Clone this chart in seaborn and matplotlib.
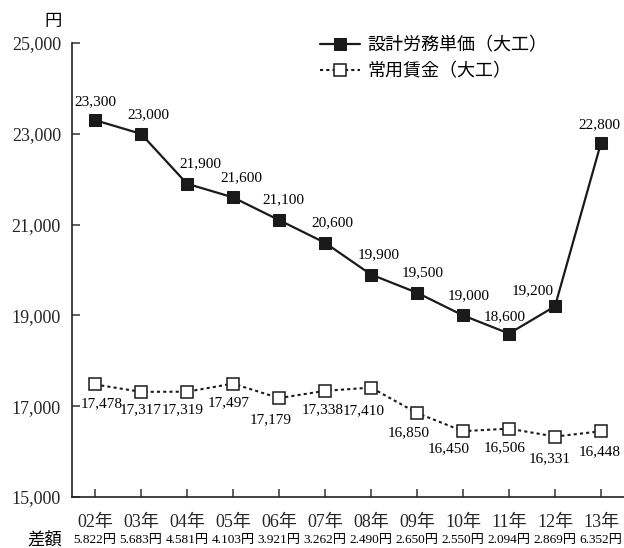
import numpy as np
import pandas as pd
import matplotlib
matplotlib.use("Agg")
import matplotlib.pyplot as plt
import matplotlib.transforms as mtransforms
import seaborn as sns

# --- data -------------------------------------------------------------
years = ["02年", "03年", "04年", "05年", "06年", "07年",
         "08年", "09年", "10年", "11年", "12年", "13年"]
design_labor = [23300, 23000, 21900, 21600, 21100, 20600,
                19900, 19500, 19000, 18600, 19200, 22800]
regular_wage = [17478, 17317, 17319, 17497, 17179, 17338,
                17410, 16850, 16450, 16506, 16331, 16448]
series_names = ["設計労務単価（大工）", "常用賃金（大工）"]
y_ticks = [15000, 17000, 19000, 21000, 23000, 25000]

# --- label nudges (pixels) --------------------------------------------
design_offsets = [(0, 18), (7, 19), (13, 20), (8, 20), (4, 20), (7, 20),
                  (8, 20), (6, 20), (6, 20), (-4, 17), (-22, 16), (-2, 18)]
wage_offsets = [(7, -19), (0, -18), (-4, -18), (-4, -19), (-8, -22), (-2, -19),
                (-7, -23), (-8, -20), (-14, -18), (-4, -19), (-5, -22), (-1, -20)]

sns.set_style("ticks")
FONT = ["Liberation Serif", "Noto Sans CJK JP"]
plt.rcParams["font.family"] = FONT
plt.rcParams["text.color"] = "black"

df = pd.DataFrame({
    "idx": np.arange(len(years)),
    "design": design_labor,
    "wage": regular_wage,
})

fig = plt.figure(figsize=(6.24, 5.48), dpi=100)
ax = fig.add_axes([72 / 624, 1 - 497 / 548, (624 - 72) / 624, (497 - 43) / 548])

sns.lineplot(data=df, x="idx", y="design", ax=ax, color="#1a1a1a", lw=1.6,
             marker="s", markersize=8, markerfacecolor="#1a1a1a",
             markeredgecolor="#1a1a1a", label=series_names[0])
sns.lineplot(data=df, x="idx", y="wage", ax=ax, color="#1a1a1a", lw=1.5,
             linestyle=(0, (1.5, 1.5)), marker="s", markersize=8,
             markerfacecolor="white", markeredgecolor="#1a1a1a",
             markeredgewidth=1.1, label=series_names[1])

ax.set_xlim(-0.5, len(years) - 0.5)
ax.set_ylim(15000, 25000)
ax.set_yticks(y_ticks)
ax.set_yticklabels([f"{v:,}" for v in y_ticks], fontsize=13)
ax.set_xticks(df["idx"])
ax.set_xticklabels(years, fontsize=13)
ax.set_xlabel("")
ax.set_ylabel("")
ax.tick_params(axis="both", direction="in", length=6, width=1.1, color="#333333")
ax.tick_params(axis="x", pad=12)
ax.tick_params(axis="y", pad=8)
for side in ("top", "right"):
    ax.spines[side].set_visible(False)
for side in ("left", "bottom"):
    ax.spines[side].set_linewidth(1.2)
    ax.spines[side].set_color("#222222")

# value labels
for i, v in enumerate(design_labor):
    dx, dy = design_offsets[i]
    ax.annotate(f"{v:,}", (i, v), xytext=(dx, dy), textcoords="offset pixels",
                ha="center", va="center", fontsize=11, family=FONT)
for i, v in enumerate(regular_wage):
    dx, dy = wage_offsets[i]
    ax.annotate(f"{v:,}", (i, v), xytext=(dx, dy), textcoords="offset pixels",
                ha="center", va="center", fontsize=11, family=FONT)

# difference row under the year labels
trans = mtransforms.blended_transform_factory(ax.transData, fig.transFigure)
for i, (a, b) in enumerate(zip(design_labor, regular_wage)):
    diff = f"{a - b:,}".replace(",", ".") + "円"
    ax.text(i, 1 - 540 / 548, diff, transform=trans, ha="center", va="center",
            fontsize=9.5, family=FONT)
fig.text(45 / 624, 1 - 540 / 548, "差額", ha="center", va="center",
         fontsize=12.5, family=FONT)

# unit
fig.text(53 / 624, 1 - 22 / 548, "円", ha="center", va="center",
         fontsize=12.5, family=FONT)

leg = ax.legend(loc="upper left", bbox_to_anchor=(320 / 624, 1 - 37 / 548),
                bbox_transform=fig.transFigure, frameon=False,
                prop={"family": FONT, "size": 13}, handlelength=2.2,
                handletextpad=0.45, labelspacing=0.5, borderaxespad=0,
                borderpad=0)

fig.savefig("out.png", dpi=100)
